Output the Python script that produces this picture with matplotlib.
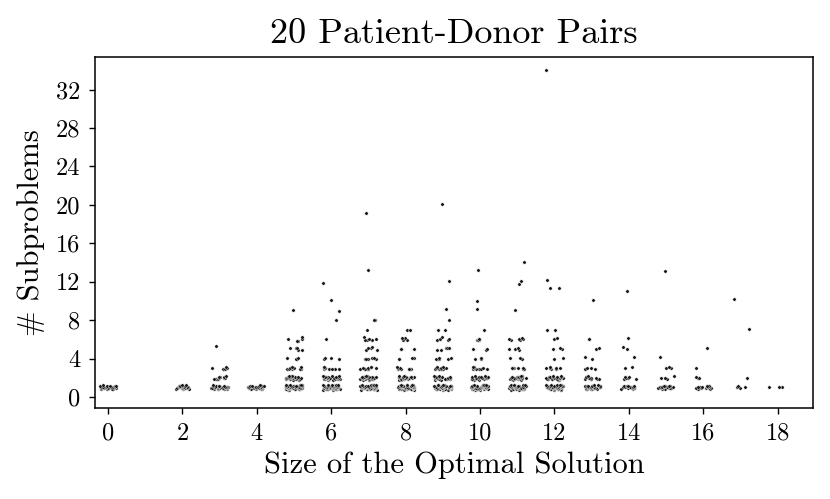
import numpy as np
import pandas as pd
import matplotlib
matplotlib.use("Agg")
import matplotlib.pyplot as plt
import seaborn as sns

plt.rcParams['font.family'] = 'serif'
plt.rcParams['font.serif'] = ['cmr10']
plt.rcParams['mathtext.fontset'] = 'cm'
plt.rcParams['axes.unicode_minus'] = False
plt.rcParams['axes.formatter.use_mathtext'] = True

# (value, count) pairs, per optimal-solution size
size_0 = [(0.8, 2), (0.85, 2), (0.9, 3), (0.95, 3), (1.0, 4), (1.05, 3), (1.1, 3), (1.15, 2), (1.2, 1)]
size_2 = [(0.8, 1), (0.85, 2), (0.9, 3), (0.95, 3), (1.0, 4), (1.05, 3), (1.1, 3), (1.15, 2), (1.2, 2)]
size_3 = [(0.78, 2), (0.83, 3), (0.88, 3), (0.93, 4), (0.98, 5), (1.03, 4), (1.08, 4), (1.13, 3),
          (1.18, 2), (1.23, 1), (1.85, 2), (1.92, 3), (2.0, 3), (2.08, 3), (2.15, 1),
          (2.95, 2), (3.05, 2), (3.15, 1), (5.3, 1)]
size_4 = [(0.8, 2), (0.85, 2), (0.9, 3), (0.95, 4), (1.0, 4), (1.05, 3), (1.1, 3), (1.15, 2), (1.2, 1)]
size_5 = [(0.76, 2), (0.8, 3), (0.85, 4), (0.9, 5), (0.95, 5), (1.0, 6), (1.05, 5), (1.1, 5), (1.15, 4),
          (1.2, 3), (1.25, 2), (1.8, 2), (1.85, 3), (1.9, 3), (1.95, 4), (2.0, 4), (2.05, 3), (2.1, 3),
          (2.15, 2), (2.2, 1), (2.88, 2), (2.95, 3), (3.02, 3), (3.1, 2), (3.95, 2), (4.1, 2),
          (4.9, 2), (5.05, 3), (5.85, 2), (6.0, 2), (6.2, 1), (9.1, 1)]
size_6 = [(0.76, 2), (0.8, 3), (0.85, 4), (0.9, 5), (0.95, 6), (1.0, 6), (1.05, 5), (1.1, 5), (1.15, 4),
          (1.2, 3), (1.25, 2), (1.8, 2), (1.85, 3), (1.9, 4), (1.95, 4), (2.0, 4), (2.05, 3), (2.1, 3),
          (2.15, 2), (2.2, 1), (2.88, 2), (2.95, 3), (3.02, 3), (3.1, 2), (3.95, 2), (4.05, 2),
          (6.0, 1), (8.0, 1), (9.0, 1), (10.1, 1), (11.9, 1)]
size_7 = [(0.76, 2), (0.8, 3), (0.85, 4), (0.9, 5), (0.95, 5), (1.0, 6), (1.05, 5), (1.1, 5), (1.15, 4),
          (1.2, 3), (1.25, 2), (1.8, 2), (1.85, 3), (1.9, 3), (1.95, 4), (2.0, 4), (2.05, 3), (2.1, 3),
          (2.15, 2), (2.88, 2), (2.95, 3), (3.02, 3), (3.1, 2), (3.9, 2), (4.0, 2), (4.1, 2),
          (4.9, 2), (5.05, 2), (5.2, 1), (5.9, 3), (6.05, 2), (6.2, 1), (7.0, 1), (8.0, 2),
          (13.2, 1), (19.2, 1)]
size_8 = [(0.76, 2), (0.8, 3), (0.85, 4), (0.9, 5), (0.95, 5), (1.0, 6), (1.05, 5), (1.1, 4), (1.15, 4),
          (1.2, 3), (1.25, 2), (1.8, 2), (1.85, 3), (1.9, 3), (1.95, 4), (2.0, 4), (2.05, 3), (2.1, 3),
          (2.15, 2), (2.88, 2), (2.95, 3), (3.05, 2), (3.12, 1), (3.95, 2), (4.1, 2), (5.0, 3),
          (5.95, 2), (6.1, 2), (7.0, 2)]
size_9 = [(0.76, 2), (0.8, 3), (0.85, 4), (0.9, 5), (0.95, 5), (1.0, 6), (1.05, 5), (1.1, 5), (1.15, 4),
          (1.2, 3), (1.25, 2), (1.8, 2), (1.85, 3), (1.9, 3), (1.95, 4), (2.0, 4), (2.05, 3), (2.1, 3),
          (2.15, 2), (2.88, 2), (2.95, 3), (3.02, 3), (3.1, 2), (3.9, 2), (4.0, 2), (4.1, 2),
          (4.9, 2), (5.05, 3), (5.9, 2), (6.05, 2), (6.2, 1), (7.0, 2), (8.0, 1), (9.2, 1),
          (12.1, 1), (20.1, 1)]
size_10 = [(0.76, 2), (0.8, 3), (0.85, 4), (0.9, 5), (0.95, 5), (1.0, 6), (1.05, 5), (1.1, 5), (1.15, 4),
           (1.2, 3), (1.25, 2), (1.8, 2), (1.85, 3), (1.9, 3), (1.95, 3), (2.0, 4), (2.05, 3), (2.1, 2),
           (2.15, 2), (2.88, 2), (2.95, 3), (3.02, 2), (3.1, 2), (3.95, 2), (4.05, 1), (4.9, 1),
           (5.0, 2), (5.95, 3), (6.05, 2), (7.0, 1), (9.2, 1), (10.0, 1), (13.2, 1)]
size_11 = [(0.76, 2), (0.8, 3), (0.85, 3), (0.9, 4), (0.95, 5), (1.0, 5), (1.05, 5), (1.1, 4), (1.15, 3),
           (1.2, 3), (1.25, 2), (1.8, 2), (1.85, 2), (1.9, 3), (1.95, 3), (2.0, 4), (2.05, 3), (2.1, 2),
           (2.15, 2), (2.9, 2), (2.97, 3), (3.05, 2), (3.9, 1), (4.05, 2), (4.9, 1), (5.0, 2),
           (5.1, 1), (5.9, 2), (6.0, 3), (6.1, 1), (9.1, 1), (11.8, 1), (12.05, 1), (14.0, 1)]
size_12 = [(0.76, 2), (0.8, 3), (0.85, 4), (0.9, 4), (0.95, 5), (1.0, 6), (1.05, 5), (1.1, 4), (1.15, 4),
           (1.2, 3), (1.25, 2), (1.8, 2), (1.85, 3), (1.9, 3), (1.95, 3), (2.0, 4), (2.05, 3), (2.1, 2),
           (2.15, 2), (2.9, 2), (2.97, 2), (3.05, 2), (3.12, 1), (3.9, 1), (4.1, 1), (4.95, 2),
           (5.05, 1), (6.0, 1), (6.1, 1), (7.0, 2), (11.3, 2), (12.2, 1), (34.0, 1)]
size_13 = [(0.8, 2), (0.85, 3), (0.9, 3), (0.95, 4), (1.0, 5), (1.05, 4), (1.1, 3), (1.15, 3),
           (1.2, 2), (1.85, 2), (1.92, 3), (2.0, 3), (2.08, 2), (2.15, 1),
           (2.9, 2), (3.05, 2), (4.0, 1), (4.15, 1), (4.95, 1), (5.1, 1), (6.0, 2), (10.1, 1)]
size_14 = [(0.82, 2), (0.88, 2), (0.94, 3), (1.0, 4), (1.06, 3), (1.12, 2), (1.18, 2),
           (1.9, 2), (2.0, 2), (2.1, 2), (3.0, 1), (3.1, 1), (4.2, 1), (5.0, 1), (5.15, 1), (6.1, 1),
           (11.0, 1)]
size_15 = [(0.82, 2), (0.88, 2), (0.94, 3), (1.0, 4), (1.06, 3), (1.12, 2), (1.18, 2),
           (1.9, 1), (2.0, 2), (2.15, 1), (3.0, 2), (3.15, 1), (4.15, 1), (13.1, 1)]
size_16 = [(0.85, 2), (0.9, 2), (0.95, 3), (1.0, 3), (1.05, 2), (1.1, 2), (1.15, 1),
           (1.95, 2), (2.1, 1), (3.0, 1), (5.1, 1)]
size_17 = [(0.9, 1), (1.0, 2), (1.1, 1), (2.0, 1), (7.1, 1), (10.2, 1)]
size_18 = [(1.0, 3)]

solution_sizes = [0, 2, 3, 4, 5, 6, 7, 8, 9, 10, 11, 12, 13, 14, 15, 16, 17, 18]
columns = [size_0, size_2, size_3, size_4, size_5, size_6, size_7, size_8, size_9,
           size_10, size_11, size_12, size_13, size_14, size_15, size_16, size_17, size_18]

xticks = [0, 2, 4, 6, 8, 10, 12, 14, 16, 18]
yticks = [0, 4, 8, 12, 16, 20, 24, 28, 32]

rows = []
for s, col in zip(solution_sizes, columns):
    for v, c in col:
        rows.extend([(s, v)] * c)
df = pd.DataFrame(rows, columns=["size", "subproblems"])

np.random.seed(7)
fig = plt.figure(figsize=(8.3, 4.99), dpi=100)
ax = fig.add_axes([0.1145, 0.1824, 0.865, 0.7034])
sns.stripplot(data=df, x="size", y="subproblems", native_scale=True, ax=ax,
              jitter=0.23, color="0.1", size=2.5, edgecolor="white", linewidth=0.3)

ax.set_xlim(-0.35, 18.95)
ax.set_ylim(-1.15, 35.4)
ax.set_xticks(xticks)
ax.set_xticklabels([str(t) for t in xticks])
ax.set_yticks(yticks)
ax.set_yticklabels([str(t) for t in yticks])
ax.tick_params(labelsize=17.5, length=4.5, width=1, pad=6)
for sp in ax.spines.values():
    sp.set_linewidth(1.1)
ax.set_xlabel("Size of the Optimal Solution", fontsize=22, labelpad=5)
ax.set_ylabel("# Subproblems", fontsize=22, labelpad=8)
ax.set_title("20 Patient-Donor Pairs", fontsize=26, pad=10)

fig.savefig("out.png", dpi=100)
